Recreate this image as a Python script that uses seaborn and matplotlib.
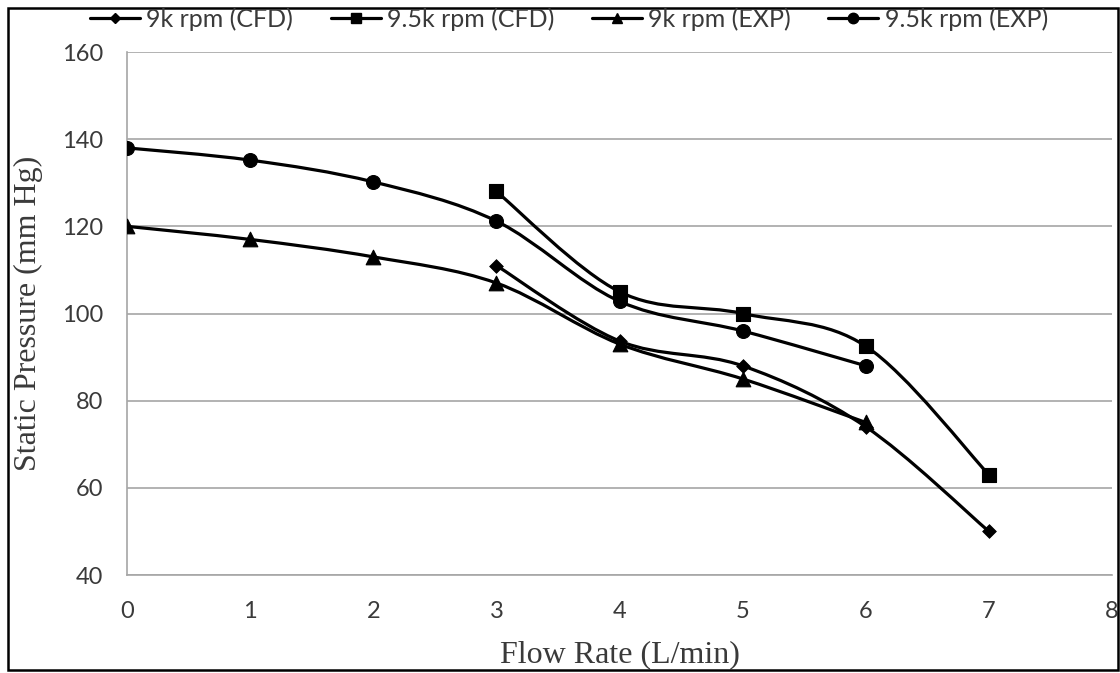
import numpy as np
import pandas as pd
import matplotlib.pyplot as plt
import seaborn as sns
from matplotlib.path import Path
from matplotlib.patches import PathPatch, Rectangle
from matplotlib.lines import Line2D

# 1. Datos
caudal_cfd = [3, 4, 5, 6, 7]
caudal_exp = [0, 1, 2, 3, 4, 5, 6]
presion_9k_cfd = [111, 93.7, 88, 74, 50]
presion_95k_cfd = [128, 105, 100, 92.5, 63]
presion_9k_exp = [120, 117, 113, 107, 93, 85, 75]
presion_95k_exp = [138, 135.2, 130.2, 121.2, 102.8, 96, 88]

series = [
    ("9k rpm (CFD)", caudal_cfd, presion_9k_cfd, "D", 7),
    ("9.5k rpm (CFD)", caudal_cfd, presion_95k_cfd, "s", 10),
    ("9k rpm (EXP)", caudal_exp, presion_9k_exp, "^", 10.5),
    ("9.5k rpm (EXP)", caudal_exp, presion_95k_exp, "o", 10),
]


# 2. Curva suave tipo Excel (bezier catmull-rom a partir de los puntos)
def curva_suave(ax, x, y, **kw):
    p = np.column_stack([x, y]).astype(float)
    verts = [p[0]]
    codes = [Path.MOVETO]
    n = len(p)
    for i in range(n - 1):
        p0 = p[i - 1] if i > 0 else p[i]
        p3 = p[i + 2] if i + 2 < n else p[i + 1]
        c1 = p[i] + (p[i + 1] - p0) / 6
        c2 = p[i + 1] - (p3 - p[i]) / 6
        verts += [c1, c2, p[i + 1]]
        codes += [Path.CURVE4] * 3
    ax.add_patch(PathPatch(Path(verts, codes), fill=False, **kw))


# 3. Configuracion general
sns.set_style("white")
plt.rcParams["font.family"] = ["Lato", "DejaVu Sans"]

fig = plt.figure(figsize=(11.2, 6.73), dpi=100)
ax = fig.add_axes([0.1134, 0.1456, 0.8795, 0.7771])

gris = "#a6a6a6"
texto = "#3a3a3a"

handles = []
for nombre, x, y, marca, tam in series:
    df = pd.DataFrame({"x": x, "y": y})
    curva_suave(ax, df["x"], df["y"], edgecolor="black", lw=2.3, zorder=3)
    sns.scatterplot(data=df, x="x", y="y", marker=marca, s=tam ** 2,
                    color="black", edgecolor="black", ax=ax, zorder=4)
    handles.append(Line2D([], [], color="black", lw=2.3, marker=marca,
                          markersize=tam * 0.75, label=nombre))

ax.set_xlim(0, 8)
ax.set_ylim(40, 160)
ax.set_xticks(range(0, 9))
ax.set_yticks(range(40, 161, 20))
ax.yaxis.grid(True, color=gris, lw=1.2)
ax.xaxis.grid(False)
ax.set_axisbelow(True)

for lado in ["top", "right"]:
    ax.spines[lado].set_visible(False)
for lado in ["left", "bottom"]:
    ax.spines[lado].set_color(gris)
    ax.spines[lado].set_linewidth(1.2)

ax.tick_params(axis="both", which="major", direction="out", length=7,
               width=1.2, color=gris, labelsize=17, labelcolor=texto)
ax.tick_params(axis="x", pad=12)
ax.tick_params(axis="y", pad=10)

ax.set_xlabel("Flow Rate (L/min)", fontsize=23, family="Liberation Serif",
              color=texto, labelpad=13)
ax.set_ylabel("Static Pressure (mm Hg)", fontsize=23, family="Liberation Serif",
              color=texto, labelpad=14)

fig.legend(handles=handles, loc="center", bbox_to_anchor=(0.508, 0.972),
           ncol=4, frameon=False, fontsize=18, handlelength=2.0,
           handletextpad=0.25, columnspacing=1.5, labelcolor=texto)

# marco de toda la figura
fig.patches.append(Rectangle((8 / 1120, 3 / 673), 1110 / 1120, 662 / 673,
                             transform=fig.transFigure, fill=False,
                             edgecolor="black", lw=1.8))

fig.savefig("out.png", dpi=100)
